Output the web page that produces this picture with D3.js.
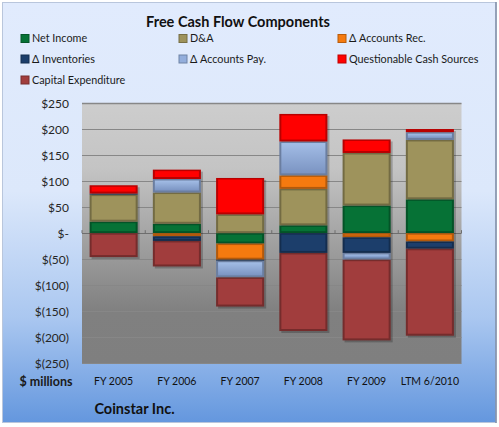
<!DOCTYPE html>
<html><head><meta charset="utf-8">
<script src="https://cdn.jsdelivr.net/npm/d3@7"></script>
<style>html,body{margin:0;padding:0;background:#fff;}svg{display:block;}</style>
</head><body>
<svg id="c" width="499" height="427"></svg>
<script>
const categories = ["FY 2005","FY 2006","FY 2007","FY 2008","FY 2009","LTM 6/2010"];
const seriesNames = ["Net Income","D&A","Δ Accounts Rec.","Δ Inventories","Δ Accounts Pay.","Questionable Cash Sources","Capital Expenditure"];
const netIncome   = [22, 18, -20, 15, 53, 65];
const dna         = [52, 60, 36, 70, 101, 114];
const accountsRec = [0, -6, -31, 26, -8, -16];
const inventories = [2, -9, -2, -38, -30, -14];
const accountsPay = [0, 26, -32, 65, -13, 15];
const questionable= [16, 18, 70, 53, 26, 6];
const capex       = [-46, -49, -56, -150, -155, -167];
const yTicks = [250,200,150,100,50,0,-50,-100,-150,-200,-250];

const colors = ["#067236","#9e935c","#f57a0f","#1c3e6b","#93aedc","#ff0000","#a13d3d"];
const allSeries = [netIncome,dna,accountsRec,inventories,accountsPay,questionable,capex];

const table = categories.map((c,i)=>{
  const o={cat:c};
  seriesNames.forEach((s,j)=>o[s]=allSeries[j][i]);
  return o;
});

const svg = d3.select("#c");
const defs = svg.append("defs");
const bg = defs.append("linearGradient").attr("id","bg").attr("x1",0).attr("y1",0).attr("x2",0).attr("y2",1);
[[0,"#e1ebfd"],[0.45,"#dce8fb"],[0.75,"#aac7f0"],[1,"#6497de"]].forEach(s=>bg.append("stop").attr("offset",s[0]).attr("stop-color",s[1]));
const pg = defs.append("linearGradient").attr("id","pg").attr("x1",0).attr("y1",0).attr("x2",0).attr("y2",1);
[[0,"#cdcdcd"],[0.25,"#c4c4c4"],[0.8,"#808080"],[1,"#7f7f7f"]].forEach(s=>pg.append("stop").attr("offset",s[0]).attr("stop-color",s[1]));
const apg = defs.append("linearGradient").attr("id","apg").attr("x1",0).attr("y1",0).attr("x2",0).attr("y2",1);
[[0,"#a3bde6"],[1,"#7b94c2"]].forEach(s=>apg.append("stop").attr("offset",s[0]).attr("stop-color",s[1]));

// background
svg.append("rect").attr("x",2.5).attr("y",2.5).attr("width",493.5).attr("height",420).attr("fill","url(#bg)").attr("stroke","#b9c6dc").attr("stroke-width",1);
svg.append("line").attr("x1",496).attr("x2",496).attr("y1",2).attr("y2",423).attr("stroke","#7f8ca6").attr("stroke-width",1.5);

const L=82, R=461.5, T=103, B=363.3;
const x = d3.scaleBand().domain(categories).range([L,R]).paddingInner(0.24).paddingOuter(0.12);
const y = d3.scaleLinear().domain([-250,250]).range([B,T]);

svg.append("rect").attr("x",L).attr("y",T).attr("width",R-L).attr("height",B-T).attr("fill","url(#pg)");

// gridlines
svg.append("g").selectAll("line").data(yTicks).join("line")
  .attr("x1",L).attr("x2",R).attr("y1",d=>Math.round(y(d))+0.5).attr("y2",d=>Math.round(y(d))+0.5)
  .attr("stroke",d=>d===0?"#6e6e6e":"#878787").attr("stroke-width",d=>d===250?1.5:1);

// y axis labels
const fmt = d=> d===0 ? "$-" : (d<0 ? "$(" + Math.abs(d) + ")" : "$" + d);
const yAxis = d3.axisLeft(y).tickValues(yTicks).tickFormat(fmt).tickSize(0).tickPadding(0);
const ya = svg.append("g").attr("transform","translate(69,0)").call(yAxis);
ya.select(".domain").remove();
ya.selectAll("text").attr("font-family","Lato").attr("font-size","12px").attr("fill","#262626").attr("dy","0.35em");

// zero-line category ticks
const bounds = categories.map(c=>x(c)-x.step()*x.paddingInner()/2);
bounds.push(R);
bounds[0]=L;
svg.append("g").selectAll("line").data(bounds).join("line")
  .attr("x1",d=>d).attr("x2",d=>d).attr("y1",y(0)-3).attr("y2",y(0))
  .attr("stroke","#6e6e6e").attr("stroke-width",1);

// stacked bars
const stack = d3.stack().keys(seriesNames).offset(d3.stackOffsetDiverging);
const stacked = stack(table);

// shadows
const barExt = categories.map((c,i)=>{
  let mn=0,mx=0;
  stacked.forEach(s=>{mn=Math.min(mn,s[i][0],s[i][1]);mx=Math.max(mx,s[i][0],s[i][1]);});
  return {c,mn,mx};
});
svg.append("g").selectAll("rect").data(barExt).join("rect")
  .attr("x",d=>x(d.c)+2).attr("y",d=>y(d.mx)+2).attr("width",x.bandwidth()).attr("height",d=>y(d.mn)-y(d.mx))
  .attr("fill","rgba(0,0,0,0.22)");

function dark(c,k){return d3.color(c).darker(k).formatHex();}
const g = svg.append("g");
stacked.forEach((s,j)=>{
  const col = colors[j];
  const segs = s.map((d,i)=>({cat:categories[i],y0:Math.min(d[0],d[1]),y1:Math.max(d[0],d[1])})).filter(d=>d.y1-d.y0>0);
  const gg = g.append("g");
  gg.selectAll("rect.o").data(segs).join("rect").attr("class","o")
    .attr("x",d=>x(d.cat)).attr("y",d=>y(d.y1)).attr("width",x.bandwidth()).attr("height",d=>y(d.y0)-y(d.y1))
    .attr("fill",dark(col,0.9));
  gg.selectAll("rect.i").data(segs.filter(d=>y(d.y0)-y(d.y1)>4)).join("rect").attr("class","i")
    .attr("x",d=>x(d.cat)+2).attr("y",d=>y(d.y1)+1.5).attr("width",x.bandwidth()-4).attr("height",d=>y(d.y0)-y(d.y1)-3.5)
    .attr("fill",j===4?"url(#apg)":col);
});

// x labels
const xa = svg.append("g").attr("transform",`translate(0,${B})`).call(d3.axisBottom(x).tickSize(0).tickPadding(0));
xa.select(".domain").remove();
xa.selectAll("text").attr("font-family","Lato").attr("font-size","10.5px").attr("fill","#111").attr("dy",0).attr("y",22);

// texts
svg.append("text").attr("x",46).attr("y",386).attr("text-anchor","middle").attr("font-family","Lato").attr("font-weight","bold").attr("font-size","12.5px").attr("fill","#1a1a1a").text("$ millions");
svg.append("text").attr("x",134.5).attr("y",414).attr("text-anchor","middle").attr("font-family","Lato").attr("font-weight","bold").attr("font-size","14.5px").attr("fill","#111").text("Coinstar Inc.");
svg.append("text").attr("x",238).attr("y",27).attr("text-anchor","middle").attr("font-family","Lato").attr("font-weight","bold").attr("font-size","14.5px").attr("fill","#111").text("Free Cash Flow Components");

// legend
const legX=[21,179,338], legY=[38.5,59,80];
const lg = svg.append("g").selectAll("g").data(seriesNames).join("g")
  .attr("transform",(d,i)=>`translate(${legX[i%3]},${legY[Math.floor(i/3)]})`);
lg.append("rect").attr("x",0).attr("y",-4).attr("width",8).attr("height",8).attr("fill",(d,i)=>colors[i]).attr("stroke",(d,i)=>dark(colors[i],0.8)).attr("stroke-width",1);
lg.append("text").attr("x",11).attr("y",0).attr("dy","0.36em").attr("font-family","Lato").attr("font-size","10.8px").attr("fill","#1a1a1a").text(d=>d);
</script>
</body></html>
